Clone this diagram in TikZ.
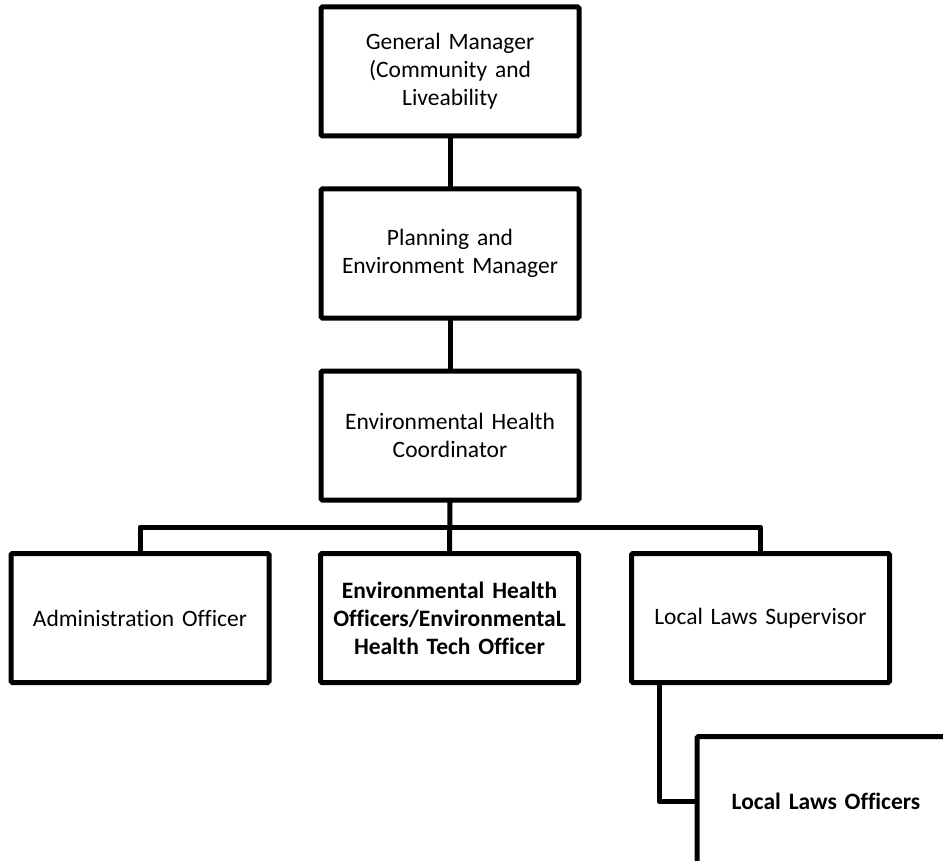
\documentclass[tikz,border=0pt]{standalone}
\usepackage{fontspec}
\setmainfont[Ligatures=NoCommon]{Carlito}
\begin{document}
\begin{tikzpicture}[x=1pt,y=-1pt,
  box/.style={draw=black,line width=5pt,rounded corners=1.5pt,fill=white,
    minimum width=258pt,minimum height=129pt,inner sep=0pt,
    align=center,text width=250pt,font=\fontsize{23.5}{28}\selectfont},
  boldbox/.style={box,font=\fontsize{23.5}{28}\selectfont\bfseries},
  link/.style={draw=black,line width=5pt,line cap=round,line join=round}]
\clip (0,0) rectangle (943,861);
\fill[white] (0,0) rectangle (943,861);
\node[box] (gm) at (450,71.5) {General Manager\\(Community and\\Liveability};
\node[box] (pem) at (450,253.5) {Planning and\\Environment Manager};
\node[box] (ehc) at (450,435.5) {Environmental Health\\Coordinator};
\node[box] (adm) at (140,618) {Administration Officer};
\node[boldbox] (eho) at (449.5,618) {Environmental Health\\Officers/EnvironmentaL\\Health Tech Officer};
\node[box] (lls) at (760.5,618) {Local Laws Supervisor};
\node[boldbox] (llo) at (826,801) {Local Laws Officers};
\coordinate (bus) at (450,527);
\coordinate (drop) at (659,683);
\draw[link] (gm.south) -- (pem.north);
\draw[link] (pem.south) -- (ehc.north);
\draw[link] (ehc.south) -- (eho.north);
\draw[link] (adm.north) |- (bus) -| (lls.north);
\draw[link] (drop) |- (llo.west);
\end{tikzpicture}
\end{document}
